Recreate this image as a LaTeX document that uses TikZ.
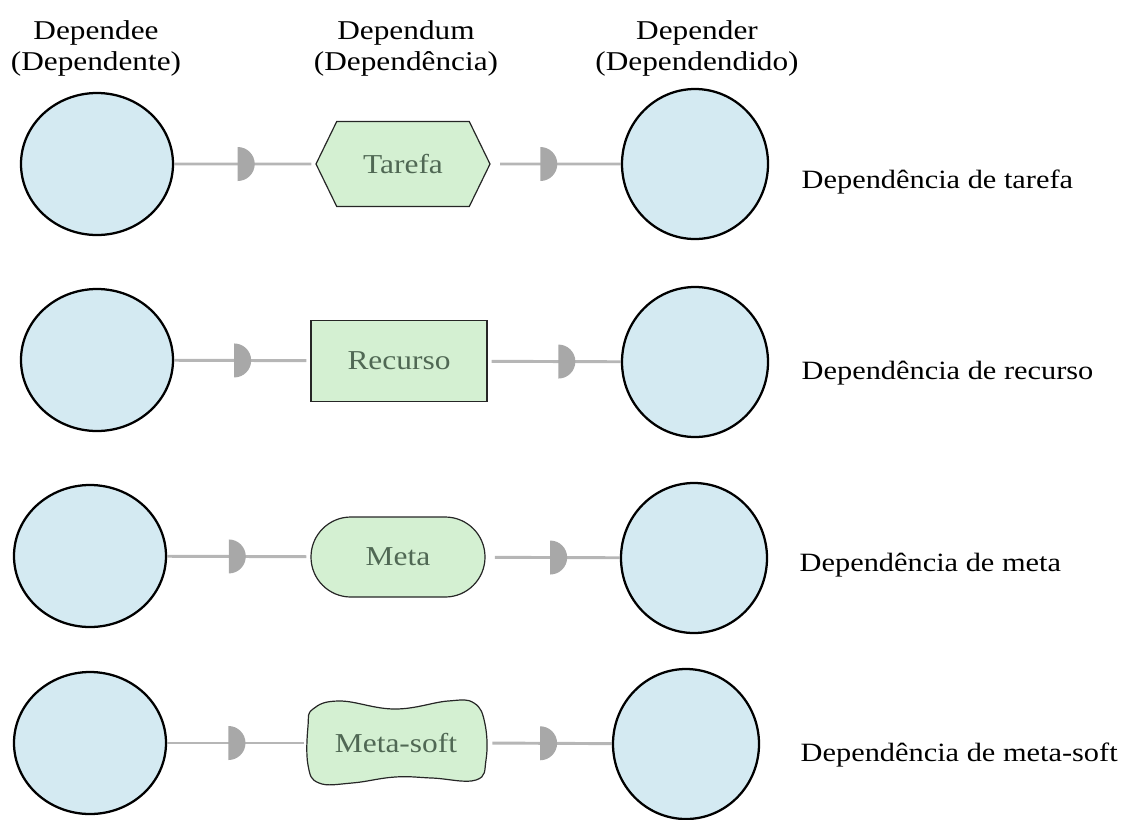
\documentclass[tikz,border=0pt]{standalone}
\usepackage{fontspec}
\setmainfont{Liberation Serif}[FakeStretch=1.15]
\usetikzlibrary{shapes.geometric,shapes.symbols}
\definecolor{actorfill}{RGB}{212,234,242}
\definecolor{dumfill}{RGB}{212,240,210}
\definecolor{dumtext}{RGB}{80,104,84}
\definecolor{linkgray}{RGB}{182,182,182}
\definecolor{markgray}{RGB}{168,168,168}
\begin{document}
\begin{tikzpicture}[x=0.75pt,y=-0.75pt,
  actorL/.style={ellipse,draw=black,line width=1.7pt,fill=actorfill,
    minimum width=114pt,minimum height=106.5pt,inner sep=0pt},
  actorR/.style={ellipse,draw=black,line width=1.7pt,fill=actorfill,
    minimum width=109.5pt,minimum height=112.5pt,inner sep=0pt},
  dumbox/.style={draw=black!85,line width=0.9pt,fill=dumfill,text=dumtext,
    font=\fontsize{20.5}{23}\selectfont,inner sep=0pt},
  head/.style={anchor=base,font=\fontsize{20.4}{24}\selectfont},
  kind/.style={anchor=west,font=\fontsize{19.8}{24}\selectfont},
  link/.style={draw=linkgray,line width=2.2pt},
  dmark/.style={semicircle,fill=markgray,draw=none,inner sep=0pt,
    minimum width=25.5pt,rotate=-90,anchor=chord center}]
\useasboundingbox (0,0) rectangle (1141,819);

% column headings
\node[head] (h1a) at (96,39) {Dependee};
\node[head] (h1b) at (96,70) {(Dependente)};
\node[head] (h2a) at (406,39) {Dependum};
\node[head] (h2b) at (406,70) {(Dependência)};
\node[head] (h3a) at (697,39) {Depender};
\node[head] (h3b) at (697,70) {(Dependendido)};

% actors
\node[actorL] (l1) at (97,164) {};
\node[actorL] (l2) at (97,360) {};
\node[actorL] (l3) at (90,556) {};
\node[actorL] (l4) at (90,743) {};
\node[actorR] (r1) at (695,164) {};
\node[actorR] (r2) at (695,362) {};
\node[actorR] (r3) at (694,558) {};
\node[actorR] (r4) at (686,744) {};

% dependums
\node[dumbox,signal,signal to=west and east,signal pointer angle=128,
  minimum width=130.5pt,minimum height=63.75pt] (d1) at (403,164) {Tarefa};
\node[dumbox,rectangle,minimum width=132pt,minimum height=60.75pt]
  (d2) at (399,361) {Recurso};
\node[dumbox,rectangle,rounded corners=29.9pt,minimum width=130.5pt,
  minimum height=60pt] (d3) at (398,557) {Meta};
% softgoal outline, then its label
\filldraw[draw=black!85,line width=0.9pt,fill=dumfill]
  plot[smooth cycle,tension=0.7] coordinates {
    (313,709) (340,701) (395,709) (448,701) (474,703)
    (485,724) (486,760) (476,780) (432,778) (395,777)
    (352,783) (319,783) (308,765) (308,726)};
\node[dumbox,draw=none,fill=none,rectangle,minimum width=133.5pt,
  minimum height=63pt] (d4) at (396,743) {Meta-soft};

% dependency links
\draw[link,shorten >=3pt] (l1) -- node[dmark,pos=0.44]{} (d1);
\draw[link,shorten <=7pt] (d1) -- node[dmark,pos=0.37]{} (r1);
\draw[link,shorten >=3pt] (l2) -- node[dmark,pos=0.43]{} (d2);
\draw[link,shorten <=3pt] (d2) -- node[dmark,pos=0.52]{} (r2);
\draw[link,shorten >=3pt] (l3) -- node[dmark,pos=0.42]{} (d3);
\draw[link,shorten <=7pt] (d3) -- node[dmark,pos=0.47]{} (r3);
\draw[link,shorten >=2pt] (l4) -- node[dmark,pos=0.43]{} (d4.west);
\draw[link,shorten <=5pt] (d4.east) -- node[dmark,pos=0.42]{} (r4);

% dependency kinds
\node[kind] (k1) at (797,182) {Dependência de tarefa};
\node[kind] (k2) at (797,373) {Dependência de recurso};
\node[kind] (k3) at (795,565) {Dependência de meta};
\node[kind] (k4) at (796,755) {Dependência de meta-soft};
\end{tikzpicture}
\end{document}
